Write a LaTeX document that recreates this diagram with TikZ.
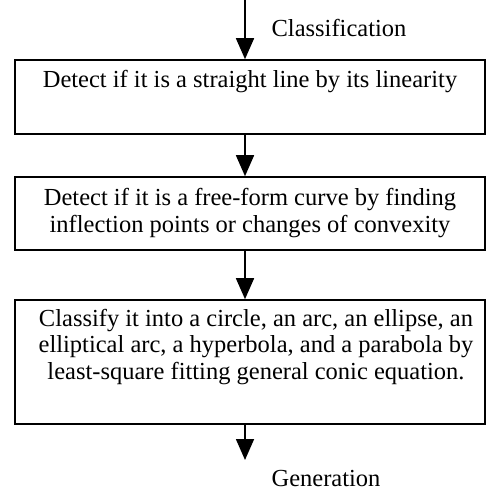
\documentclass[tikz,border=0pt]{standalone}
\usepackage{fontspec}
\setmainfont{Liberation Serif}
\usetikzlibrary{arrows.meta}
\begin{document}
\begin{tikzpicture}[x=1pt,y=1pt,
  box/.style={draw=black,line width=1.6pt,minimum width=470pt,inner sep=0pt},
  txt/.style={font=\fontsize{24.5}{26.5}\selectfont,align=center,inner sep=0pt},
  flow/.style={line width=1.6pt,-{Triangle[width=18pt,length=21pt]}}]
\useasboundingbox (0,0) rectangle (486,-494);
\coordinate (top) at (245,0);
\node[box,minimum height=74pt] (b1) at (250,-97) {};
\node[box,minimum height=73pt] (b2) at (250,-213.5) {};
\node[box,minimum height=124pt] (b3) at (250,-362) {};
\node[txt] (t1) at (250,-82) {Detect if it is a straight line by its linearity};
\node[txt] (t2) at (250,-213) {Detect if it is a free-form curve by finding\\inflection points or changes of convexity};
\node[txt] (t3) at (256,-347) {Classify it into a circle, an arc, an ellipse, an\\elliptical arc, a hyperbola, and a parabola by\\least-square fitting general conic equation.};
\coordinate (end) at (245,-460);
\node[txt] (cls) at (339,-28) {Classification};
\node[txt] (gen) at (326,-479) {Generation};
\draw[flow] (top) -- (b1.north -| top);
\draw[flow] (b1.south -| top) -- (b2.north -| top);
\draw[flow] (b2.south -| top) -- (b3.north -| top);
\draw[flow] (b3.south -| top) -- (end);
\end{tikzpicture}
\end{document}
